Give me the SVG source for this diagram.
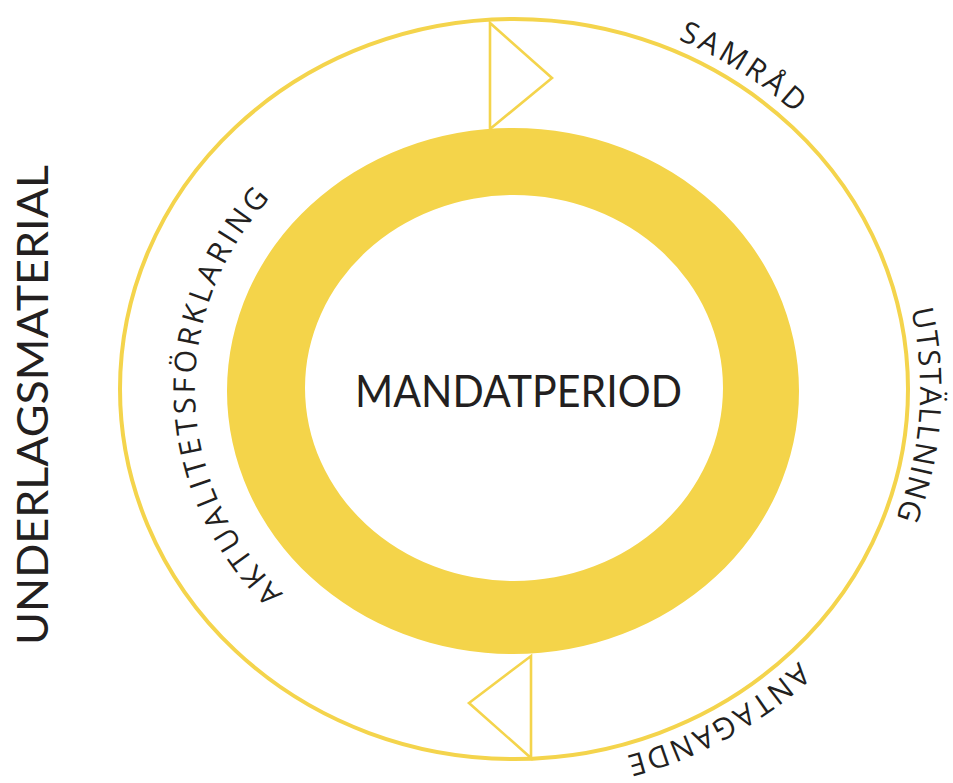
<svg xmlns="http://www.w3.org/2000/svg" xmlns:xlink="http://www.w3.org/1999/xlink" width="953" height="783" viewBox="0 0 953 783">
<style>
.lbl{font-family:"Open Sans","Liberation Sans",sans-serif;font-size:30px;fill:#231f20;}
.big{font-family:Lato,"Open Sans","Liberation Sans",sans-serif;fill:#231f20;}
.tri{fill:none;stroke:#f4d44c;stroke-width:2.6;stroke-linejoin:miter;}
</style>
<defs>
<path id="pSamrad" d="M292.9,709.4 A406,382 0 0 1 173.5,181 A406,382 0 0 1 735.1,68.6 A406,382 0 0 1 854.5,597 A406,382 0 0 1 292.9,709.4"/>
<path id="pUtst" d="M109,362.3 A406,382 0 0 1 542.3,7.9 A406,382 0 0 1 919,415.7 A406,382 0 0 1 485.7,770.1 A406,382 0 0 1 109,362.3"/>
<path id="pAnt" d="M311,58.2 A406,382 0 0 1 865.6,198 A406,382 0 0 1 717,719.8 A406,382 0 0 1 162.4,580 A406,382 0 0 1 311,58.2"/>
<path id="pAkt" d="M832.6,373.5 A319,296 0 0 1 530.7,684.6 A319,296 0 0 1 195.4,404.5 A319,296 0 0 1 497.3,93.4 A319,296 0 0 1 832.6,373.5"/>
</defs>
<rect width="953" height="783" fill="#ffffff"/>
<g id="outer-cycle">
<ellipse cx="514" cy="389" rx="394" ry="370" fill="none" stroke="#f4d44c" stroke-width="4"/>
</g>
<g id="mandatperiod">
<path d="M227,391 A286,263 0 1 0 799,391 A286,263 0 1 0 227,391 Z M305,388 A209,193 0 1 0 723,388 A209,193 0 1 0 305,388 Z" fill="#f4d44a" fill-rule="evenodd"/>
<text class="big" x="355" y="407" font-size="44" textLength="327" lengthAdjust="spacingAndGlyphs">MANDATPERIOD</text>
</g>
<g id="connectors">
<polygon class="tri" points="490,23 490,129 552,78"/>
<polygon class="tri" points="531,656 531,758 469,703"/>
</g>
<g id="samrad">
<text class="lbl" letter-spacing="3.5"><textPath xlink:href="#pSamrad" href="#pSamrad" startOffset="50.3%" text-anchor="middle">SAMRÅD</textPath></text>
</g>
<g id="utstallning">
<text class="lbl" letter-spacing="1.5"><textPath xlink:href="#pUtst" href="#pUtst" startOffset="50%" text-anchor="middle">UTSTÄLLNING</textPath></text>
</g>
<g id="antagande">
<text class="lbl" letter-spacing="2.5"><textPath xlink:href="#pAnt" href="#pAnt" startOffset="50%" text-anchor="middle">ANTAGANDE</textPath></text>
</g>
<g id="aktualitetsforklaring">
<text class="lbl" letter-spacing="3.6"><textPath xlink:href="#pAkt" href="#pAkt" startOffset="50.4%" text-anchor="middle">AKTUALITETSFÖRKLARING</textPath></text>
</g>
<g id="underlagsmaterial">
<text class="big" transform="translate(48,645) rotate(-90)" x="0" y="0" font-size="43" textLength="480" lengthAdjust="spacingAndGlyphs">UNDERLAGSMATERIAL</text>
</g>
</svg>
